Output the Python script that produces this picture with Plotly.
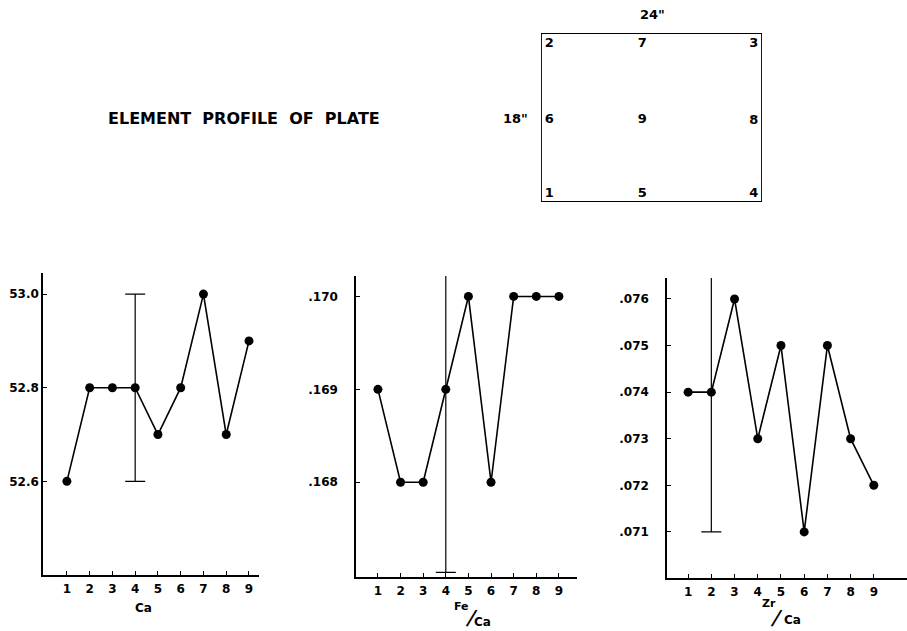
import plotly.graph_objects as go

# ---------------- data ----------------
locations = [1, 2, 3, 4, 5, 6, 7, 8, 9]
location_labels = ["1", "2", "3", "4", "5", "6", "7", "8", "9"]

ca_values = [52.6, 52.8, 52.8, 52.8, 52.7, 52.8, 53.0, 52.7, 52.9]
fe_ca_values = [0.169, 0.168, 0.168, 0.169, 0.170, 0.168, 0.170, 0.170, 0.170]
zr_ca_values = [0.074, 0.074, 0.076, 0.073, 0.075, 0.071, 0.075, 0.073, 0.072]

ca_err_x, ca_err_low, ca_err_high = 4, 52.6, 53.0
fe_err_x, fe_err_low, fe_err_high = 4, 0.16703, 0.17052
zr_err_x, zr_err_low, zr_err_high = 2, 0.071, 0.0771

ca_ticks = [52.6, 52.8, 53.0]
ca_ticktext = ["52.6", "52.8", "53.0"]
fe_ticks = [0.168, 0.169, 0.170]
fe_ticktext = [".168", ".169", ".170"]
zr_ticks = [0.071, 0.072, 0.073, 0.074, 0.075, 0.076]
zr_ticktext = [".071", ".072", ".073", ".074", ".075", ".076"]

# plate diagram (inches): 24" x 18" plate, sampling point labels
plate_width, plate_height = 24, 18
plate_ids = ["1", "2", "3", "4", "5", "6", "7", "8", "9"]
plate_x = [0.9, 0.9, 23.1, 23.1, 11.0, 0.9, 11.0, 23.1, 11.0]
plate_y = [0.85, 16.9, 16.9, 0.85, 0.85, 8.8, 16.9, 8.7, 8.8]

# ---------------- figure ----------------
W, H = 907, 631
FONT = "DejaVu Sans"
INK = "black"


def px(x):
    return x / W


def py(y):
    return 1 - y / H


fig = go.Figure()

panels = [
    ("x", "y", ca_values, ca_err_x, ca_err_low, ca_err_high),
    ("x2", "y2", fe_ca_values, fe_err_x, fe_err_low, fe_err_high),
    ("x3", "y3", zr_ca_values, zr_err_x, zr_err_low, zr_err_high),
]
for xa, ya, vals, ex, lo, hi in panels:
    fig.add_trace(go.Scatter(
        x=locations, y=vals, xaxis=xa, yaxis=ya, mode="lines+markers",
        line=dict(color=INK, width=1.6),
        marker=dict(color=INK, size=9),
        showlegend=False, hoverinfo="skip"))
    fig.add_trace(go.Scatter(
        x=[ex], y=[(lo + hi) / 2], xaxis=xa, yaxis=ya, mode="markers",
        marker=dict(size=1, color="rgba(0,0,0,0)"),
        error_y=dict(type="data", symmetric=True, array=[(hi - lo) / 2],
                     color=INK, thickness=1.2, width=10),
        showlegend=False, hoverinfo="skip"))

# plate diagram labels
fig.add_trace(go.Scatter(
    x=plate_x, y=plate_y, text=plate_ids, mode="text", xaxis="x4", yaxis="y4",
    textfont=dict(family=FONT, size=13, color=INK, weight="bold"),
    showlegend=False, hoverinfo="skip"))
fig.add_shape(type="rect", xref="x4", yref="y4", x0=0, y0=0,
              x1=plate_width, y1=plate_height,
              line=dict(color=INK, width=1.8))

axis_common = dict(showline=True, linecolor=INK, linewidth=1.5, mirror=False,
                   showgrid=False, zeroline=False, ticks="inside", ticklen=4,
                   tickwidth=1.2, tickcolor=INK,
                   tickfont=dict(family=FONT, size=12, color=INK, weight="bold"))

xticks = dict(tickmode="array", tickvals=locations, ticktext=location_labels,
              ticklabelstandoff=2)

fig.update_layout(
    width=W, height=H, margin=dict(l=0, r=0, t=0, b=0),
    paper_bgcolor="white", plot_bgcolor="white",
    xaxis=dict(domain=[px(43), px(259)], range=[-0.05, 9.44], anchor="y",
               **xticks, **axis_common),
    yaxis=dict(domain=[py(575), py(273)], range=[52.4, 53.045], anchor="x",
               tickmode="array", tickvals=ca_ticks, ticktext=ca_ticktext,
               ticklabelstandoff=0, **axis_common),
    xaxis2=dict(domain=[px(356), px(577)], range=[0.03, 9.8], anchor="y2",
                **xticks, **axis_common),
    yaxis2=dict(domain=[py(577), py(276)], range=[0.16698, 0.17022], anchor="x2",
                tickmode="array", tickvals=fe_ticks, ticktext=fe_ticktext,
                ticklabelstandoff=14, **axis_common),
    xaxis3=dict(domain=[px(667), px(907)], range=[0.09, 10.43], anchor="y3",
                **xticks, **axis_common),
    yaxis3=dict(domain=[py(578), py(278)], range=[0.07001, 0.07645], anchor="x3",
                tickmode="array", tickvals=zr_ticks, ticktext=zr_ticktext,
                ticklabelstandoff=14, **axis_common),
    xaxis4=dict(domain=[px(541), px(762)], range=[0, plate_width], anchor="y4",
                visible=False),
    yaxis4=dict(domain=[py(202), py(33)], range=[0, plate_height], anchor="x4",
                visible=False),
)


def note(text, x, y, size=12, bold=True, angle=0):
    fig.add_annotation(text=text, x=px(x), y=py(y), xref="paper", yref="paper",
                       showarrow=False, xanchor="center", yanchor="middle",
                       textangle=angle,
                       font=dict(family=FONT, size=size, color=INK,
                                 weight="bold" if bold else "normal"))


note("ELEMENT\u00a0\u00a0PROFILE\u00a0\u00a0OF\u00a0\u00a0PLATE", 244, 118, size=16)
note("24\"", 652, 15, size=13)
note("18\"", 515, 119, size=13)

note("Ca", 143, 608, size=12)
note("Fe", 461, 606, size=11)
note("/", 471.5, 617, size=22, bold=False, angle=14)
note("Ca", 483, 622, size=12)
note("Zr", 769, 603, size=11)
note("/", 776.5, 617, size=22, bold=False, angle=14)
note("Ca", 792, 620, size=12)

fig.write_html("out.html", config={"displayModeBar": False},
               post_script="document.body.style.margin='0';")
